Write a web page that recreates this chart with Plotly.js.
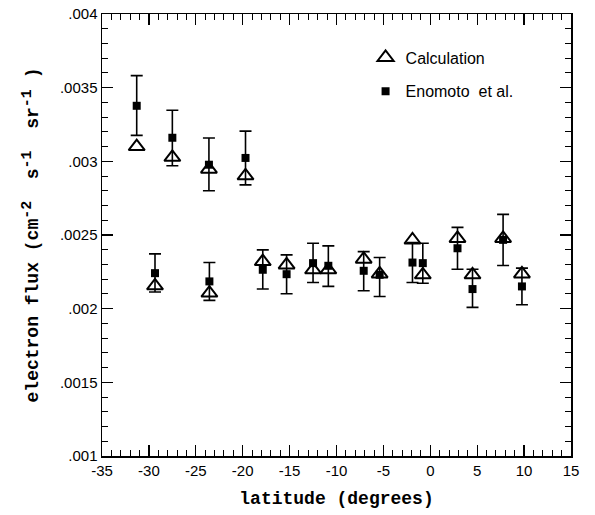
<!DOCTYPE html>
<html>
<head>
<meta charset="utf-8">
<script src="https://cdn.plot.ly/plotly-3.0.1.min.js"></script>
<style>html,body{margin:0;padding:0;background:#fff;}#chart{width:595px;height:515px;}</style>
</head>
<body>
<div id="chart"></div>
<script>
// Calculation (triangles)
var calcLat  = [-31.3, -27.5, -23.6, -19.7, -29.35, -23.55, -17.86, -15.32, -12.5, -10.87, -7.1, -5.4, -1.9, -0.8, 2.9, 4.5, 7.76, 9.77];
var calcFlux = [0.00310, 0.003027, 0.002947, 0.002902, 0.002155, 0.002106, 0.00232, 0.002297, 0.002264, 0.002264, 0.002336, 0.002236, 0.002466, 0.00223, 0.002477, 0.00223, 0.002477, 0.002236];

// Enomoto et al. (squares with error bars)
var obsLat   = [-31.3, -27.5, -23.6, -19.7, -29.35, -23.55, -17.86, -15.32, -12.5, -10.87, -7.1, -5.4, -1.9, -0.8, 2.9, 4.5, 7.76, 9.77];
var obsFlux  = [0.003377, 0.00316, 0.002977, 0.003023, 0.002241, 0.002185, 0.002264, 0.002234, 0.002309, 0.002291, 0.002257, 0.00223, 0.002313, 0.002309, 0.00241, 0.002133, 0.002467, 0.002151];
var obsErrUp = [0.000205, 0.000187, 0.000181, 0.000182, 0.000131, 0.000128, 0.000135, 0.000131, 0.000135, 0.000135, 0.00013, 0.000117, 0.000135, 0.000135, 0.000142, 0.000135, 0.000173, 0.000124];
var obsErrDn = [0.000201, 0.00019, 0.000177, 0.000183, 0.000128, 0.000129, 0.000131, 0.000133, 0.000131, 0.00014, 0.000135, 0.000147, 0.000135, 0.000136, 0.000142, 0.000124, 0.000174, 0.000124];

var xTickVals = [-35, -30, -25, -20, -15, -10, -5, 0, 5, 10, 15];
var xTickText = ["-35", "-30", "-25", "-20", "-15", "-10", "-5", "0", "5", "10", "15"];
var yTickVals = [0.001, 0.0015, 0.002, 0.0025, 0.003, 0.0035, 0.004];
var yTickText = [".001", ".0015", ".002", ".0025", ".003", ".0035", ".004"];

var titleFont = {family: "Liberation Mono, Courier New, monospace", size: 18, color: "#000", weight: "bold"};
var tickFont = {family: "Liberation Sans, Arial, sans-serif", size: 15, color: "#000"};
var sp = "\u00A0";
function sup(t) { return "<sup><span style=\"font-size:15px\">" + t + "</span></sup>"; }

var traces = [
  {
    x: calcLat, y: calcFlux, type: "scatter", mode: "markers", name: "Calculation",
    legendgroup: "a",
    marker: {symbol: "triangle-up-open", size: 14, color: "#000", line: {width: 2, color: "#000"}}
  },
  {
    x: obsLat, y: obsFlux, type: "scatter", mode: "markers", name: "Enomoto" + sp + " et al.",
    legendgroup: "b",
    marker: {symbol: "square", size: 8, color: "#000"},
    error_y: {type: "data", symmetric: false, array: obsErrUp, arrayminus: obsErrDn, color: "#000", thickness: 1.6, width: 6}
  }
];

var axisCommon = {
  showline: true, linecolor: "#000", linewidth: 1.5, mirror: "allticks",
  ticks: "inside", ticklen: 11, tickwidth: 1.3, tickcolor: "#000",
  showgrid: false, zeroline: false, tickfont: tickFont
};

var layout = {
  width: 595, height: 515,
  margin: {l: 102, r: 24, t: 14, b: 59},
  paper_bgcolor: "#fff", plot_bgcolor: "#fff",
  showlegend: true,
  legend: {x: 0.562, y: 0.94, xanchor: "left", yanchor: "top", bgcolor: "rgba(0,0,0,0)",
           font: {family: "Liberation Sans, Arial, sans-serif", size: 16, color: "#000"},
           traceorder: "grouped", tracegroupgap: 10},
  xaxis: Object.assign({}, axisCommon, {
    range: [-35, 15], tickvals: xTickVals, ticktext: xTickText,
    minor: {dtick: 1, ticks: "inside", ticklen: 6, tickwidth: 1, tickcolor: "#000"},
    title: {text: "latitude (degrees)", font: titleFont, standoff: 14}
  }),
  yaxis: Object.assign({}, axisCommon, {
    range: [0.001, 0.004], tickvals: yTickVals, ticktext: yTickText,
    minor: {dtick: 0.0001, ticks: "inside", ticklen: 6, tickwidth: 1, tickcolor: "#000"},
    title: {text: "electron flux (cm" + sup("-2") + sp + sp + "s" + sup("-1") + sp + sp + "sr" + sup("-1") + sp + ")", font: titleFont, standoff: 16}
  })
};

Plotly.newPlot("chart", traces, layout, {displayModeBar: false, staticPlot: true});
</script>
</body>
</html>
